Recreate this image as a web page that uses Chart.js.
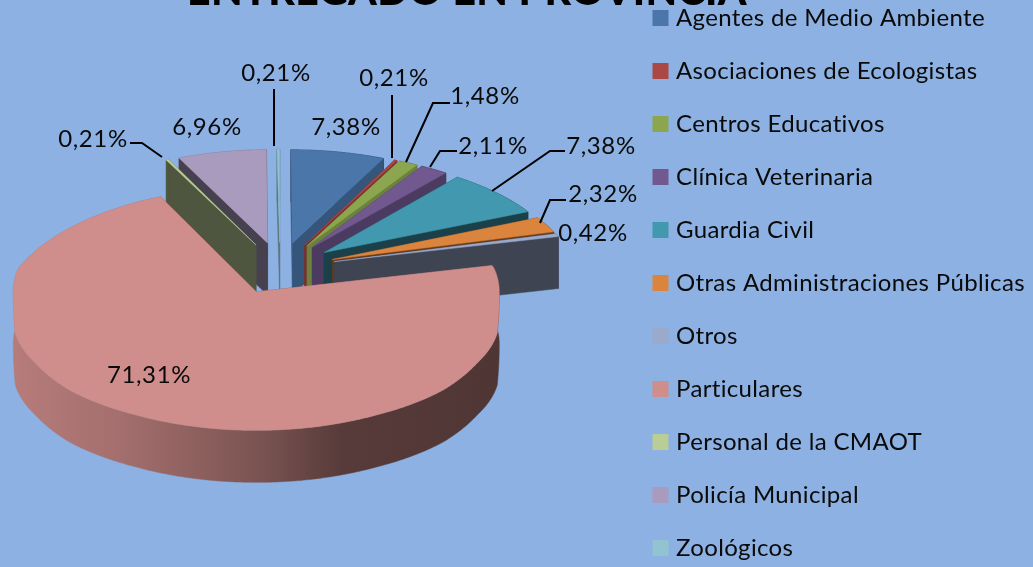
<!DOCTYPE html>
<html>
<head>
<meta charset="utf-8">
<script src="https://cdn.jsdelivr.net/npm/chart.js@4/dist/chart.umd.min.js"></script>
<style>
html,body{margin:0;padding:0;width:1033px;height:567px;overflow:hidden;background:#8cb1e2}
#wrap{position:absolute;left:0;top:-31px;width:1033px;height:720px}
canvas{display:block}
</style>
</head>
<body>
<div id="wrap"><canvas id="c" width="1033" height="720"></canvas></div>
<script>
const titleText = 'ENTREGADO EN PROVINCIA';
const categories = ['Agentes de Medio Ambiente','Asociaciones de Ecologistas','Centros Educativos','Clínica Veterinaria','Guardia Civil','Otras Administraciones Públicas','Otros','Particulares','Personal de la CMAOT','Policía Municipal','Zoológicos'];
const values = [7.38,0.21,1.48,2.11,7.38,2.32,0.42,71.31,0.21,6.96,0.21];
const colors = ['#4a76a9','#ab4744','#8ba64e','#71588f','#4198af','#db843d','#9aa9cc','#cf8d8b','#b9cd96','#a99bbd','#92c3d0'];
// darkening of each slice's cut faces
const wallShade = [0.72,0.7,0.78,0.67,0.42,0.45,0.4,0.6,0.42,0.42,0.6];
// label text centres and leader polylines, page pixels
const labelAt = [[346,127],[394,78],[485,96],[493,146],[601,146],[603,194],[593,233],[149,375],[93,139],[207,127],[276,73]];
const leaders = [null,[[392,95],[392,158]],[[450,103],[433,103],[406,162]],[[457,151],[440,151],[430,167]],[[565,151],[550,151],[492,191]],[[566,200],[550,200],[540,223]],null,null,[[130,143],[142,143],[162,157]],null,[[274,89],[274,146]]];
const view = {cx:280, cy:268, k:0.473, fBack:1560, h:52, shift:31, step:Math.PI/360};
// depth towards the viewer -> page y, for the near half of the pie
const frontCurve = [[0,268],[51,292],[82,333],[152,363],[206,390],[262,415],[293,430],[320,443]];
const labelFont = '24px Lato';
const spacing = '0.35px';

function frontY(Y){
  for(let i=1;i<frontCurve.length;i++){
    const a=frontCurve[i-1],b=frontCurve[i];
    if(Y<=b[0]) return a[1]+(b[1]-a[1])*(Y-a[0])/(b[0]-a[0]);
  }
  return frontCurve[frontCurve.length-1][1];
}
function proj(X,Y){
  if(Y<0){const s=1/(1-Y/view.fBack);return [view.cx+X*s, view.cy+Y*view.k*s];}
  return [view.cx+X, frontY(Y)];
}
function rgb(hex,f){const n=parseInt(hex.slice(1),16);return `rgb(${Math.round((n>>16&255)*f)},${Math.round((n>>8&255)*f)},${Math.round((n&255)*f)})`;}
function poly(ctx,pts,fill){ctx.beginPath();pts.forEach((p,i)=>i?ctx.lineTo(p[0],p[1]):ctx.moveTo(p[0],p[1]));ctx.closePath();ctx.fillStyle=fill;ctx.fill();ctx.strokeStyle=fill;ctx.lineWidth=0.5;ctx.stroke();}

const pie3d = {
  id:'pie3d',
  afterLayout(chart){
    const t=chart.titleBlock,l=chart.legend;
    t.left=0;t.right=934;t.top=2.5;
    const w=l.width;l.left=628;l.right=628+w;l.top=8;
  },
  beforeDraw(chart){chart.ctx.letterSpacing=spacing;},
  beforeDatasetsDraw(chart){
    const ctx=chart.ctx,meta=chart.getDatasetMeta(0);
    ctx.save();ctx.translate(0,view.shift);
    const slices=meta.data.map((arc,i)=>{
      const mid=(arc.startAngle+arc.endAngle)/2,off=arc.options.offset;
      return {arc,i,mid,ox:off*Math.cos(mid),oy:off*Math.sin(mid)};
    }).sort((a,b)=>Math.sin(a.mid)-Math.sin(b.mid));
    for(const s of slices){
      const {arc,i,ox,oy}=s,base=colors[i],r=arc.outerRadius;
      const rim=[];
      const n=Math.max(2,Math.ceil((arc.endAngle-arc.startAngle)/view.step));
      for(let j=0;j<=n;j++){const a=arc.startAngle+(arc.endAngle-arc.startAngle)*j/n;rim.push(proj(ox+r*Math.cos(a),oy+r*Math.sin(a)));}
      const apex=proj(ox,oy),down=p=>[p[0],p[1]+view.h];
      const wc=rgb(base,wallShade[i]);
      const g=ctx.createLinearGradient(12,0,497,0);
      [[0,0.88],[0.22,0.79],[0.5,0.6],[0.68,0.42],[1,0.38]].forEach(q=>g.addColorStop(q[0],rgb(base,q[1])));
      poly(ctx,rim.concat(rim.slice().reverse().map(down)),g);
      poly(ctx,[apex,rim[0],down(rim[0]),down(apex)],wc);
      poly(ctx,[apex,rim[n],down(rim[n]),down(apex)],wc);
      poly(ctx,[apex].concat(rim),base);
    }
    ctx.strokeStyle='#000';ctx.lineWidth=2;
    leaders.forEach(l=>{if(!l)return;ctx.beginPath();l.forEach((p,j)=>j?ctx.lineTo(p[0],p[1]):ctx.moveTo(p[0],p[1]));ctx.stroke();});
    ctx.letterSpacing='0.6px';
    ctx.font=labelFont;ctx.textAlign='center';ctx.textBaseline='middle';ctx.fillStyle='#0a0a0a';
    values.forEach((v,i)=>ctx.fillText(v.toFixed(2).replace('.',',')+'%',labelAt[i][0],labelAt[i][1]));
    ctx.restore();
    return false;
  }
};

new Chart(document.getElementById('c'),{
  type:'pie',
  data:{labels:categories,datasets:[{data:values,backgroundColor:colors,borderWidth:0,offset:56}]},
  options:{
    responsive:false,animation:false,radius:243,
    plugins:{
      tooltip:{enabled:false},
      title:{display:true,text:titleText,color:'#000',font:{family:'Lato',size:41,weight:'900',lineHeight:1},padding:0},
      legend:{display:true,position:'right',align:'start',labels:{usePointStyle:true,pointStyle:'rect',boxWidth:7,boxHeight:16,padding:29,color:'#0a0a0a',font:{family:'Lato',size:24}}}
    }
  },
  plugins:[pie3d]
});
</script>
</body>
</html>
